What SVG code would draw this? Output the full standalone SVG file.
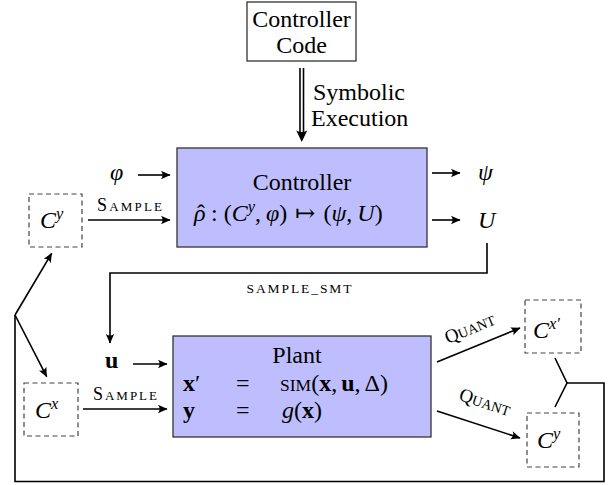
<svg xmlns="http://www.w3.org/2000/svg" width="608" height="485" viewBox="0 0 608 485">
<style>
text{font-family:"Liberation Serif","Times New Roman",Times,"DejaVu Serif",serif;font-size:24px;fill:#000}
.i{font-style:italic}
.b{font-weight:bold}
.sc{font-size:13px}
.cap{font-size:18px}
.ln{stroke:#000;stroke-width:1.6;fill:none}
.dash{fill:#fff;stroke:#444;stroke-width:1.2;stroke-dasharray:5 3.5}
.blk{fill:#bebeff;stroke:#333;stroke-width:1.3}
.box{fill:#fff;stroke:#333;stroke-width:1.3}
.sup{font-size:16.5px}
</style>
<defs>
<marker id="ah" viewBox="-10 -5 12 10" refX="0" refY="0" markerWidth="12" markerHeight="10" markerUnits="userSpaceOnUse" orient="auto">
<path d="M0.5,0 L-9,-4.2 Q-5.8,0 -9,4.2 Z" fill="#000"/>
</marker>
</defs>

<g id="connectors">
<line class="ln" x1="300" y1="68" x2="300" y2="133"/>
<line class="ln" x1="303.5" y1="68" x2="303.5" y2="133"/>
<path d="M301.75,142 L296.3,130.5 Q301.75,133.5 307.2,130.5 Z" fill="#000"/>
<line class="ln" x1="138" y1="175" x2="170" y2="175" marker-end="url(#ah)"/>
<line class="ln" x1="88" y1="220" x2="170" y2="220" marker-end="url(#ah)"/>
<line class="ln" x1="432" y1="173" x2="460" y2="173" marker-end="url(#ah)"/>
<line class="ln" x1="432" y1="220" x2="460" y2="220" marker-end="url(#ah)"/>
<path class="ln" d="M487,243 V273 H110 V343" marker-end="url(#ah)"/>
<line class="ln" x1="133" y1="364" x2="167" y2="364" marker-end="url(#ah)"/>
<line class="ln" x1="83" y1="409" x2="167" y2="409" marker-end="url(#ah)"/>
<line class="ln" x1="437" y1="362" x2="520" y2="328" marker-end="url(#ah)"/>
<line class="ln" x1="437" y1="411" x2="520" y2="438" marker-end="url(#ah)"/>
<path class="ln" d="M555,358 L567,383 L555,407"/>
<path class="ln" d="M567,383 H604 V481.5 H15 V315"/>
<line class="ln" x1="15" y1="315" x2="51.7" y2="253.3" marker-end="url(#ah)"/>
<line class="ln" x1="15" y1="315" x2="46.7" y2="376.7" marker-end="url(#ah)"/>
<text x="313" y="100">Symbolic</text>
<text x="311" y="126">Execution</text>
<text x="97" y="211" textLength="65" lengthAdjust="spacing"><tspan class="cap">S</tspan><tspan class="sc">AMPLE</tspan></text>
<text x="299" y="293" text-anchor="middle" style="font-size:13.5px" textLength="105" lengthAdjust="spacing">SAMPLE_SMT</text>
<text x="93" y="400" textLength="64" lengthAdjust="spacing"><tspan class="cap">S</tspan><tspan class="sc">AMPLE</tspan></text>
<text transform="translate(472,334) rotate(-22.3)" text-anchor="middle"><tspan style="font-size:19px">Q</tspan><tspan style="font-size:14px">UANT</tspan></text>
<text transform="translate(483,408) rotate(18)" text-anchor="middle"><tspan style="font-size:19px">Q</tspan><tspan style="font-size:14px">UANT</tspan></text>
<text class="i" x="110" y="180">φ</text>
<text class="i" x="478" y="180">ψ</text>
<text class="i" x="478" y="228">U</text>
<text class="b" x="105" y="368">u</text>
</g>

<g id="code">
<rect class="box" x="247" y="2" width="109" height="59"/>
<text x="301.5" y="27" text-anchor="middle">Controller</text>
<text x="301.5" y="53" text-anchor="middle">Code</text>
</g>

<g id="controller">
<rect class="blk" x="177" y="148" width="250" height="99"/>
<text x="302" y="190" text-anchor="middle">Controller</text>
<text x="194" y="221"><tspan class="i">ρ</tspan><tspan dx="-8.5">ˆ</tspan><tspan dx="6">:</tspan><tspan dx="6">(</tspan><tspan class="i">C</tspan><tspan class="i sup" dy="-9">y</tspan><tspan dy="9">,</tspan><tspan class="i" dx="5">φ</tspan><tspan>)</tspan><tspan dx="8">↦</tspan><tspan dx="8">(</tspan><tspan class="i">ψ</tspan><tspan>,</tspan><tspan class="i" dx="5">U</tspan><tspan>)</tspan></text>
</g>

<g id="cy-left">
<rect class="dash" x="29" y="194" width="53" height="53"/>
<text class="i" x="40" y="228">C<tspan class="sup" dy="-9">y</tspan></text>
</g>

<g id="cx-left">
<rect class="dash" x="24" y="383" width="54" height="53"/>
<text class="i" x="35" y="418">C<tspan class="sup" dy="-9">x</tspan></text>
</g>

<g id="plant">
<rect class="blk" x="173" y="336" width="258" height="101"/>
<text x="297" y="363" text-anchor="middle">Plant</text>
<text x="183" y="390.5"><tspan class="b">x</tspan><tspan>′</tspan><tspan class="b" x="183" y="417.5">y</tspan></text>
<text x="236" y="390.5">=<tspan x="236" y="417.5">=</tspan></text>
<text x="280" y="390.5"><tspan style="font-size:17.5px">SIM</tspan><tspan>(</tspan><tspan class="b">x</tspan><tspan>,</tspan><tspan class="b" dx="4">u</tspan><tspan>,</tspan><tspan dx="4">Δ</tspan><tspan>)</tspan><tspan x="282" y="417.5" class="i">g</tspan><tspan>(</tspan><tspan class="b">x</tspan><tspan>)</tspan></text>
</g>

<g id="cxp-right">
<rect class="dash" x="525" y="300" width="56" height="53"/>
<text class="i" x="533" y="338">C<tspan class="sup" dy="-9">x′</tspan></text>
</g>

<g id="cy-right">
<rect class="dash" x="527" y="413" width="52" height="54"/>
<text class="i" x="537" y="448">C<tspan class="sup" dy="-9">y</tspan></text>
</g>
</svg>
